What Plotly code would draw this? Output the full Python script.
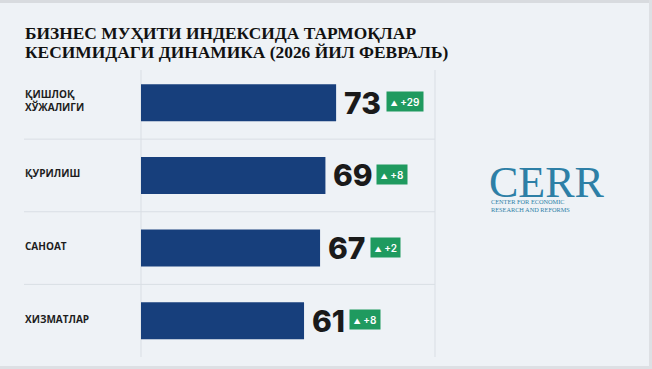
import plotly.graph_objects as go

# ---- data ----
title_lines = ["БИЗНЕС МУҲИТИ ИНДЕКСИДА ТАРМОҚЛАР", "КЕСИМИДАГИ ДИНАМИКА (2026 ЙИЛ ФЕВРАЛЬ)"]
sectors = ["ҚИШЛОҚ ХЎЖАЛИГИ", "ҚУРИЛИШ", "САНОАТ", "ХИЗМАТЛАР"]
values = [73, 69, 67, 61]
changes = [29, 8, 2, 8]

W, H = 652, 369
BG = "#eef2f6"
BAR = "#173f7c"
GREEN = "#1f9a5f"
GRID = "#d9dee4"
TEAL = "#2d7fa6"

NUM_SIZE = 30
digit_em = {"1": 0.46}
def num_width(s):
    return sum(digit_em.get(c, 0.62) for c in s) * NUM_SIZE

def px_x(p):
    return p / W

def px_y(p):
    return 1 - p / H

fig = go.Figure()
fig.add_trace(go.Bar(
    x=values, y=sectors, orientation="h", width=0.51,
    marker=dict(color=BAR, line=dict(width=0)),
    hoverinfo="skip",
))

annotations = []
shapes = []

# title
for i, line in enumerate(title_lines):
    annotations.append(dict(
        text=f"<b>{line}</b>", xref="paper", yref="paper",
        x=px_x(23), y=px_y(33 + 19 * i), xanchor="left", yanchor="middle",
        showarrow=False, font=dict(family="Liberation Serif", size=17.4, color="#111111"),
    ))

# category labels, values, badges
for s, v, c in zip(sectors, values, changes):
    annotations.append(dict(
        text=s.replace(" ", "<br>"), xref="paper", yref="y", x=px_x(23), y=s,
        xanchor="left", yanchor="middle", yshift=2, align="left", showarrow=False,
        font=dict(family="Open Sans", size=10, color="#1d1d1d", weight=700),
    ))
    annotations.append(dict(
        text=str(v), xref="x", yref="y", x=v, y=s, xanchor="left", yanchor="middle",
        xshift=6, showarrow=False,
        font=dict(family="Inter", size=NUM_SIZE, color="#1a1a1a", weight=800),
    ))
    annotations.append(dict(
        text=f"<span style='font-size:7px'>▲</span> +{c}", xref="x", yref="y", x=v, y=s,
        xanchor="left", yanchor="middle", xshift=6 + num_width(str(v)) + 7, yshift=1,
        showarrow=False, bgcolor=GREEN, borderpad=3.5,
        font=dict(family="Inter", size=10, color="white", weight=600),
    ))

# separators between rows
for k in range(len(sectors) - 1):
    shapes.append(dict(type="line", xref="paper", yref="y", x0=px_x(24), x1=px_x(435),
                       y0=k + 0.5, y1=k + 0.5, line=dict(color=GRID, width=1), layer="below"))
# vertical lines
for xp in (141, 435):
    shapes.append(dict(type="line", xref="paper", yref="paper", x0=px_x(xp), x1=px_x(xp),
                       y0=px_y(357), y1=px_y(70), line=dict(color=GRID, width=1), layer="below"))

# frame strips
shapes.append(dict(type="rect", xref="paper", yref="paper", x0=0, x1=1, y0=px_y(3), y1=1,
                   fillcolor="#d8dbdf", line=dict(width=0), layer="below"))
shapes.append(dict(type="rect", xref="paper", yref="paper", x0=0, x1=1, y0=0, y1=px_y(366),
                   fillcolor="#dde0e4", line=dict(width=0), layer="below"))
shapes.append(dict(type="rect", xref="paper", yref="paper", x0=px_x(649), x1=1, y0=0, y1=1,
                   fillcolor="#dde0e4", line=dict(width=0), layer="below"))

# logo
annotations.append(dict(
    text="CERR", xref="paper", yref="paper", x=px_x(487), y=px_y(183), xanchor="left",
    yanchor="middle", showarrow=False,
    font=dict(family="Liberation Serif", size=44, color=TEAL),
))
annotations.append(dict(
    text="CENTER FOR ECONOMIC<br>RESEARCH AND REFORMS", xref="paper", yref="paper",
    x=px_x(489), y=px_y(205), xanchor="left", yanchor="middle", align="left", showarrow=False,
    font=dict(family="Liberation Serif", size=6.3, color=TEAL),
))

fig.update_layout(
    width=W, height=H, margin=dict(l=0, r=0, t=0, b=0),
    paper_bgcolor=BG, plot_bgcolor="rgba(0,0,0,0)", showlegend=False,
    xaxis=dict(domain=[px_x(141), px_x(435)], range=[0, 110], visible=False, fixedrange=True),
    yaxis=dict(domain=[px_y(357), px_y(66.5)], range=[3.5, -0.5], visible=False,
               categoryorder="array", categoryarray=sectors, fixedrange=True),
    annotations=annotations, shapes=shapes, bargap=0.49,
)

fig.write_html("out.html", config={"displayModeBar": False},
               post_script="document.body.style.margin='0';")
